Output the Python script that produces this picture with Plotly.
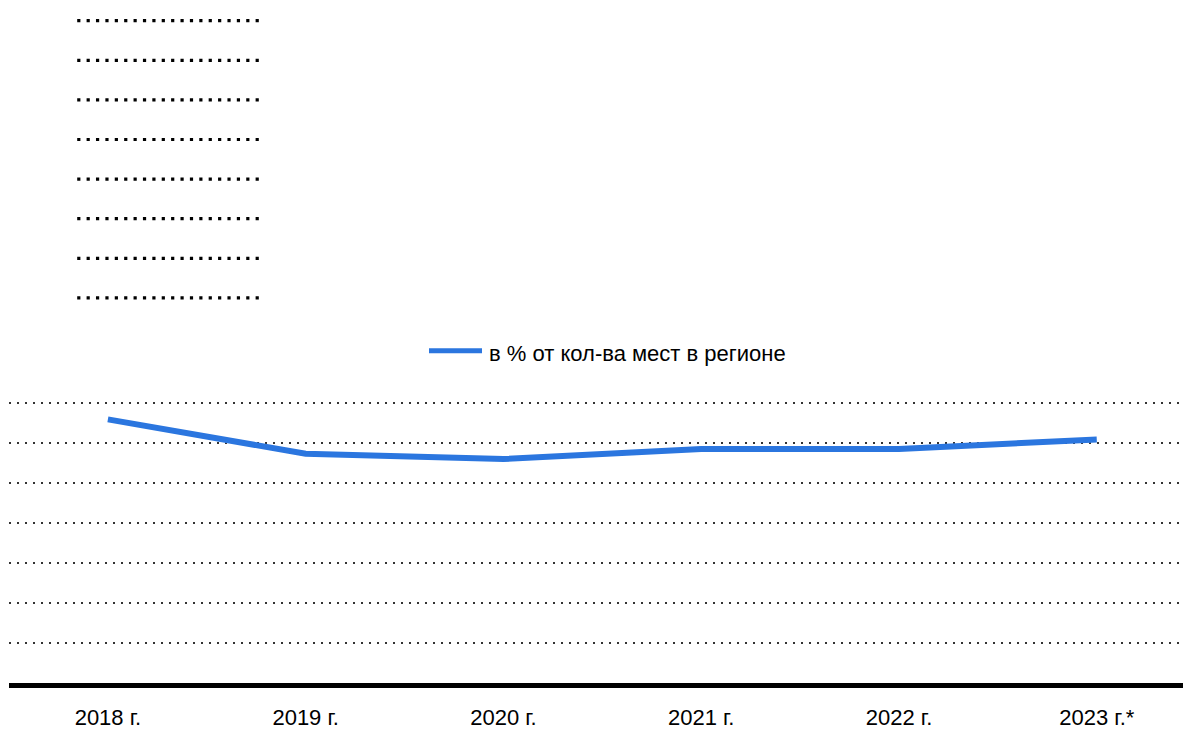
import plotly.graph_objects as go

categories = ["2018 г.", "2019 г.", "2020 г.", "2021 г.", "2022 г.", "2023 г.*"]
values = [65.9, 57.3, 56.0, 58.5, 58.5, 60.9]
series_name = "в % от кол-ва мест в регионе"

W, H = 1183, 729
L, R, T, B = 9, 0, 395, 46
FONT = "Liberation Sans, Arial, sans-serif"
FS = 22
BLUE = "#2B76DF"

pw = W - L - R
ph = H - T - B


def px_x(x):
    return (x - L) / pw


def px_y(y):
    return (H - B - y) / ph


fig = go.Figure()
fig.add_trace(go.Scatter(
    x=categories, y=values, mode="lines", name=series_name,
    line=dict(color=BLUE, width=6), showlegend=False, cliponaxis=False,
))

shapes = []
# decorative dotted rows in the top-left
for i in range(8):
    yy = 20.7 + 39.6 * i
    shapes.append(dict(type="line", xref="paper", yref="paper",
                       x0=px_x(77.2), x1=px_x(262), y0=px_y(yy), y1=px_y(yy),
                       line=dict(color="black", width=3.2, dash="3.2px,6.19px")))
# legend sample
shapes.append(dict(type="line", xref="paper", yref="paper",
                   x0=px_x(429), x1=px_x(482), y0=px_y(350.7), y1=px_y(350.7),
                   line=dict(color=BLUE, width=5)))

fig.update_layout(
    width=W, height=H,
    margin=dict(l=L, r=R, t=T, b=B),
    paper_bgcolor="white", plot_bgcolor="white",
    font=dict(family=FONT, size=FS, color="black"),
    shapes=shapes,
    annotations=[dict(xref="paper", yref="paper", x=px_x(487), y=px_y(353),
                      xanchor="left", yanchor="middle", showarrow=False,
                      text=series_name, font=dict(family=FONT, size=FS, color="black"))],
    xaxis=dict(type="category", range=[-0.5, 5.436], showgrid=False,
               showline=True, linecolor="black", linewidth=5,
               ticks="", ticklabelstandoff=11,
               tickfont=dict(family=FONT, size=FS, color="black"),
               fixedrange=True),
    yaxis=dict(range=[0, 72], dtick=10, showticklabels=False, showline=False,
               zeroline=False, showgrid=True, gridcolor="#333333", gridwidth=1.5,
               griddash="1.5px,6.5px", ticks="", fixedrange=True),
)

fig.write_html("out.html", config={"displayModeBar": False},
               post_script="document.body.style.margin='0';document.body.style.overflow='hidden';")
